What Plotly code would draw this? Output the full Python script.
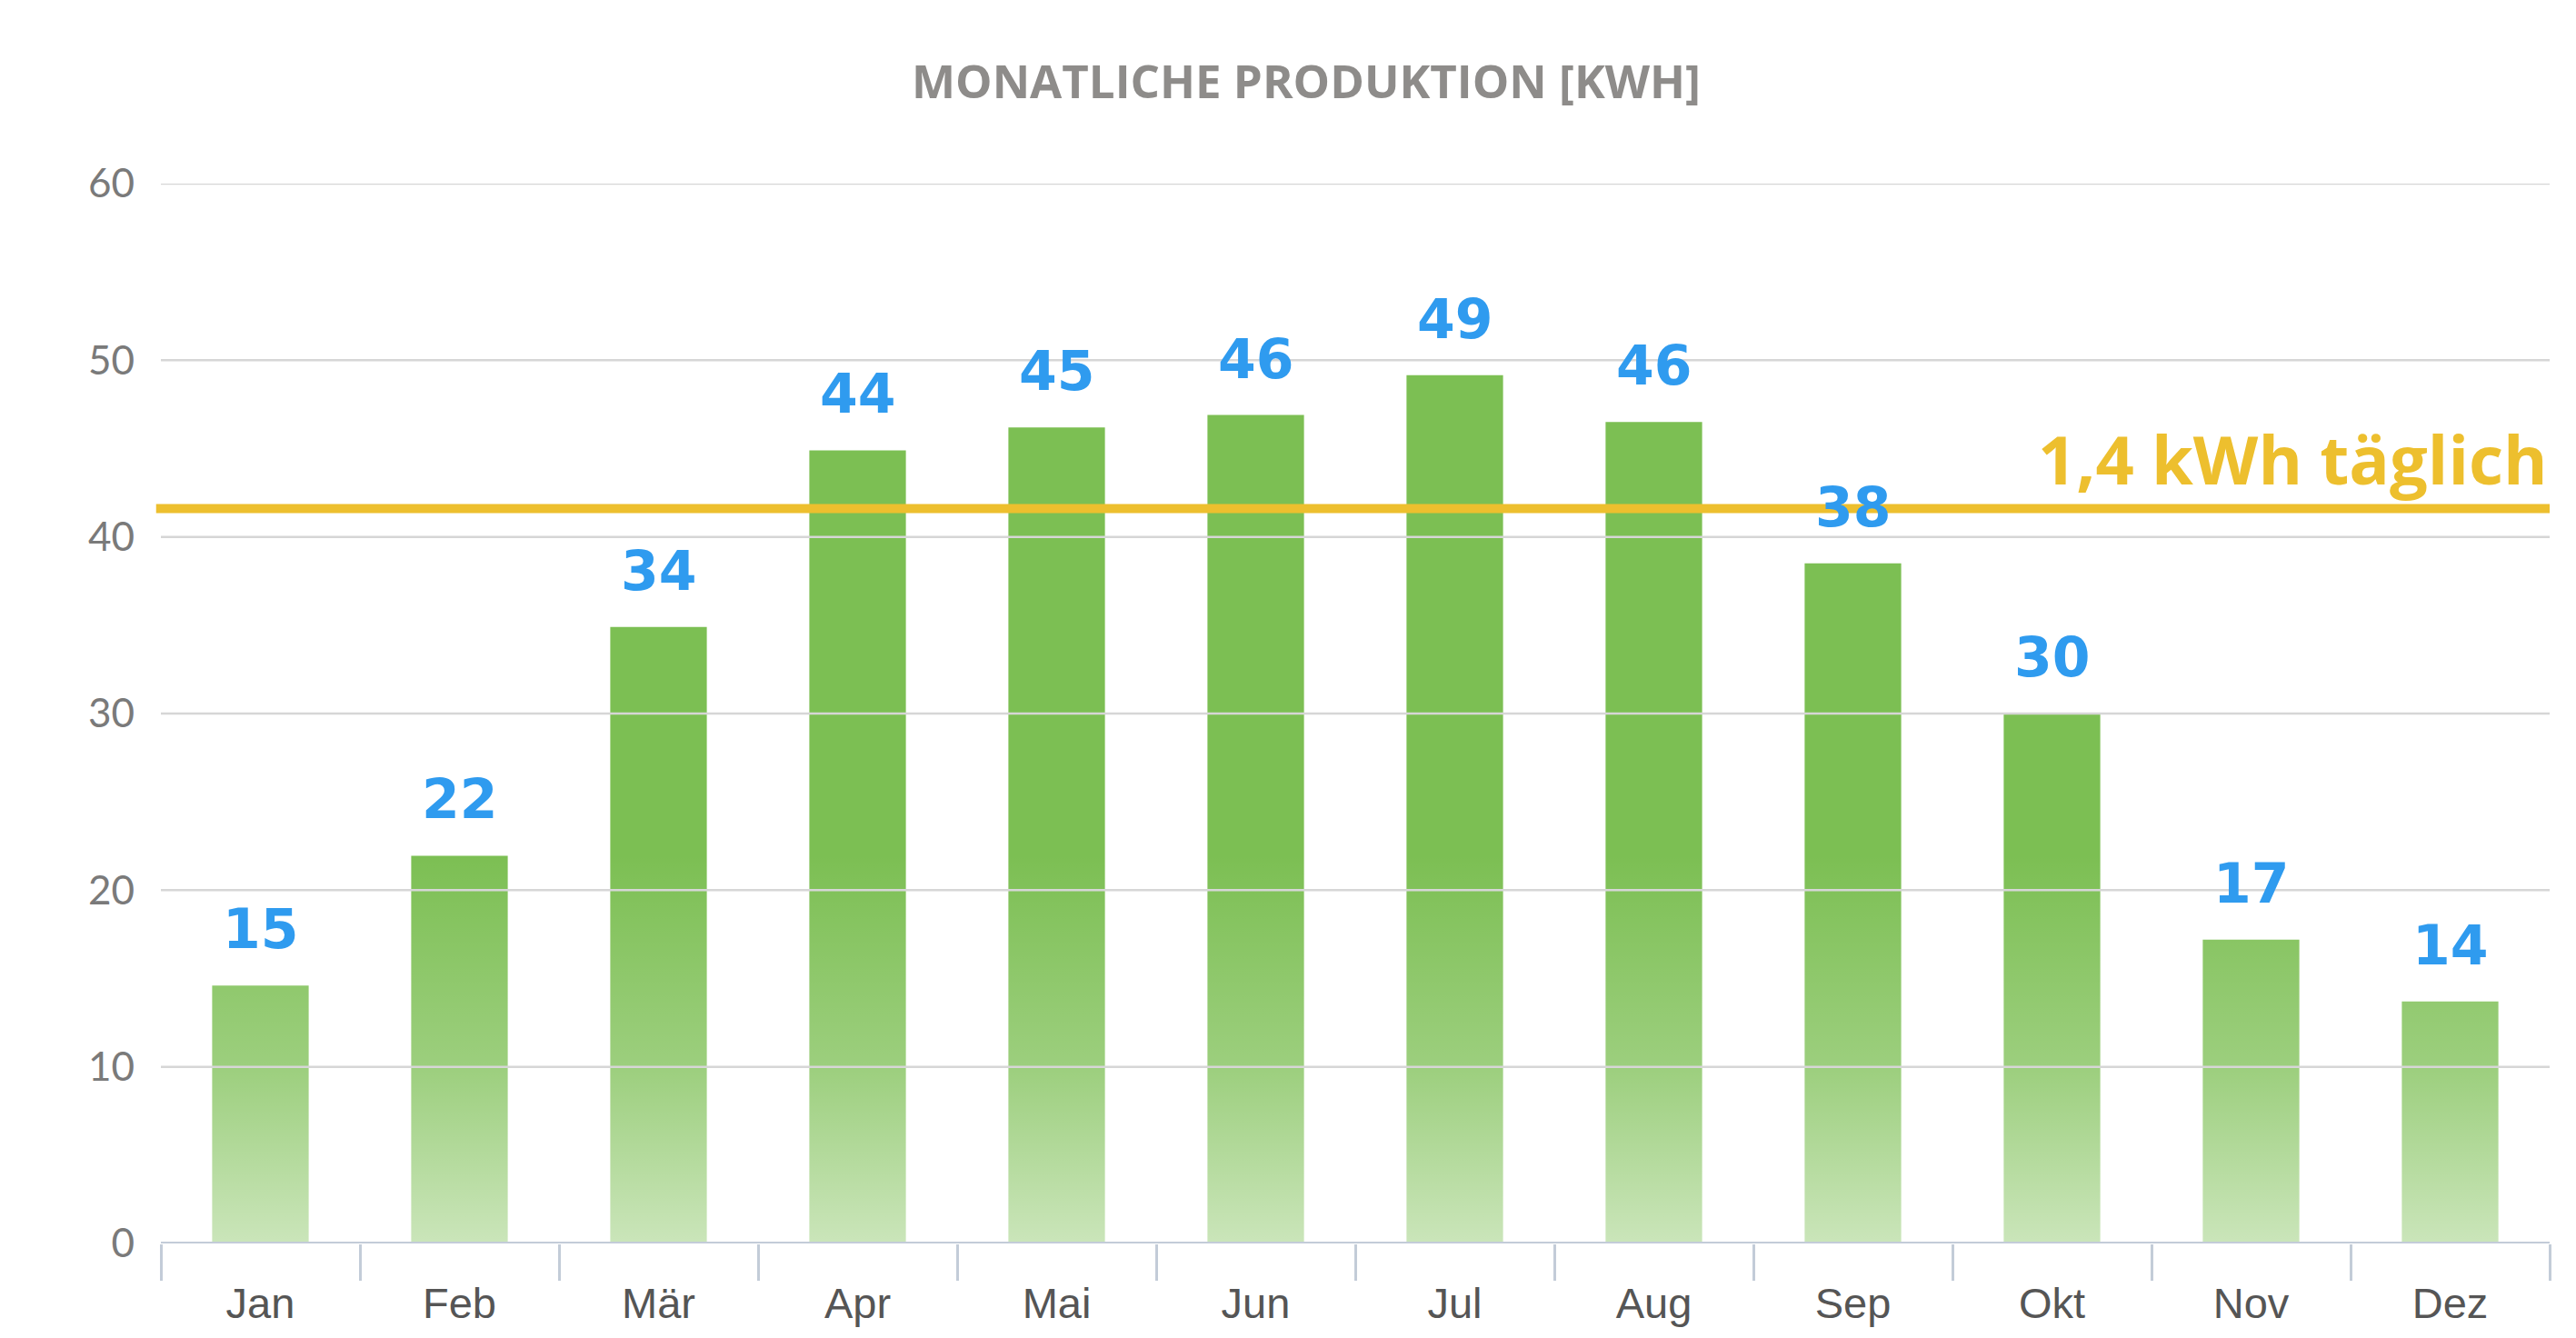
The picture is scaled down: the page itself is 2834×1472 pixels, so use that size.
import base64
import plotly.graph_objects as go

# ---- data ----
months = ["Jan", "Feb", "Mär", "Apr", "Mai", "Jun", "Jul", "Aug", "Sep", "Okt", "Nov", "Dez"]
production = [14.6, 21.95, 34.9, 44.9, 46.2, 46.9, 49.15, 46.5, 38.5, 30.0, 17.2, 13.7]
value_labels = ["15", "22", "34", "44", "45", "46", "49", "46", "38", "30", "17", "14"]
daily_target = 41.6
daily_label = "1,4 kWh täglich"
y_ticks = [0, 10, 20, 30, 40, 50, 60]
title_text = "MONATLICHE PRODUKTION [KWH]"

W, H = 2834, 1472
bar_color = "#7CBF53"
label_color = "#2F9BEF"
target_color = "#EDBF2E"
grid_color = "#D6D6D6"
axis_color = "#C3CCD8"

fig = go.Figure()
fig.add_trace(go.Bar(
    x=months, y=production,
    marker=dict(color=bar_color, line=dict(width=0)),
    hoverinfo="skip",
))

# vertical white fade towards the bottom of the bars
svg = (
    "<svg xmlns='http://www.w3.org/2000/svg' width='100' height='100' "
    "viewBox='0 0 100 100' preserveAspectRatio='none'>"
    "<defs><linearGradient id='g' x1='0' y1='0' x2='0' y2='1'>"
    "<stop offset='0' stop-color='white' stop-opacity='0'/>"
    "<stop offset='0.55' stop-color='white' stop-opacity='0.25'/>"
    "<stop offset='1' stop-color='white' stop-opacity='0.6'/>"
    "</linearGradient></defs>"
    "<rect x='0' y='0' width='100' height='100' fill='url(#g)'/></svg>"
)
src = "data:image/svg+xml;base64," + base64.b64encode(svg.encode()).decode()
fade_top = 22
fig.add_layout_image(dict(
    source=src, xref="paper", yref="y", x=0, y=fade_top,
    sizex=1, sizey=fade_top, xanchor="left", yanchor="top",
    sizing="stretch", layer="above", opacity=1,
))

shapes = []
for t in y_ticks[1:]:
    shapes.append(dict(type="line", xref="paper", yref="y", x0=0, x1=1, y0=t, y1=t,
                       line=dict(color=grid_color, width=2.5), layer="above"))
shapes.append(dict(type="line", xref="paper", yref="y", x0=0, x1=1, y0=0, y1=0,
                   line=dict(color=axis_color, width=4), layer="above"))
shapes.append(dict(type="line", xref="paper", yref="y", x0=-0.002, x1=1,
                   y0=daily_target, y1=daily_target,
                   line=dict(color=target_color, width=10), layer="above"))

annotations = []
for m, v, lab in zip(months, production, value_labels):
    annotations.append(dict(
        x=m, y=v, text=lab, showarrow=False, xref="x", yref="y",
        yanchor="middle", yshift=62,
        font=dict(family="DejaVu Sans", size=60, color=label_color, weight="bold"),
    ))
annotations.append(dict(
    x=1, y=daily_target, xref="paper", yref="y", text=daily_label, showarrow=False,
    xanchor="right", yanchor="middle", yshift=55,
    font=dict(family="Open Sans", size=74, color=target_color, weight="bold"),
))

fig.update_layout(
    width=W, height=H,
    margin=dict(l=177, r=29, t=202, b=104),
    paper_bgcolor="white", plot_bgcolor="white",
    showlegend=False,
    bargap=0.515,
    title=dict(text=title_text, x=1437 / W, xref="container", xanchor="center",
               y=1 - 90 / H, yref="container", yanchor="middle",
               font=dict(family="Open Sans", size=51, color="#8E8C8A", weight="bold")),
    shapes=shapes,
    annotations=annotations,
)
fig.update_xaxes(
    showgrid=False, showline=False, zeroline=False,
    ticks="outside", tickson="boundaries", ticklen=40, tickwidth=2.5, tickcolor=axis_color,
    ticklabelstandoff=34,
    tickfont=dict(family="Liberation Sans", size=47, color="#555555"),
    range=[-0.5, 11.5],
)
fig.update_yaxes(
    range=[0, 60], tickvals=y_ticks, showgrid=False, zeroline=False, showline=False,
    ticks="", ticklabelstandoff=28,
    tickfont=dict(family="Lato", size=44, color="#7A7A7A"),
)

fig.write_html("out.html")
